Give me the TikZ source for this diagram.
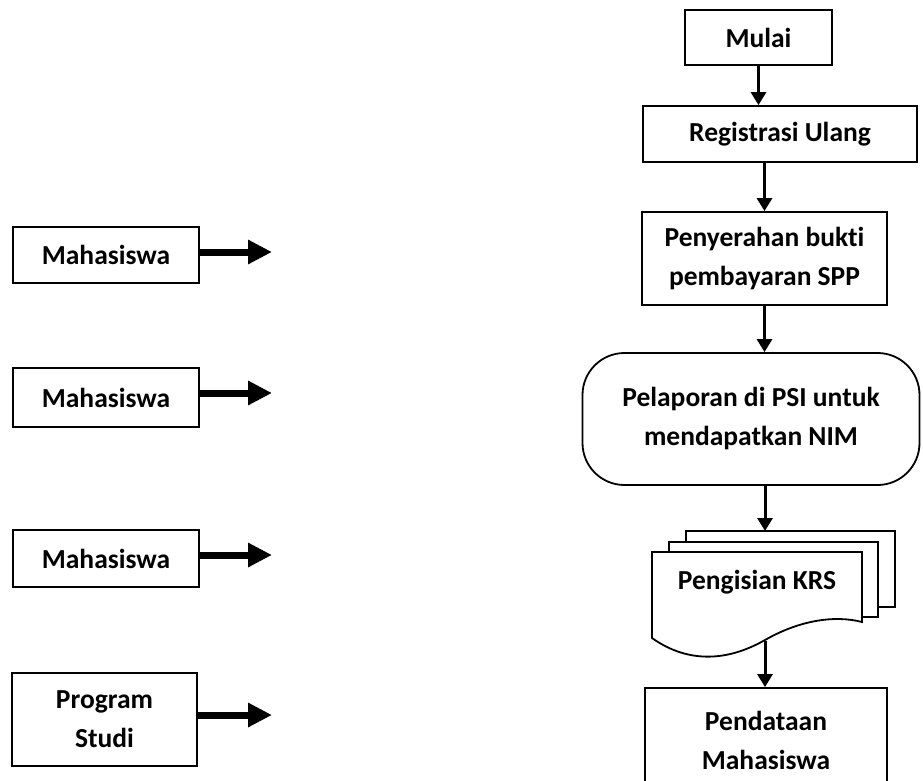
\documentclass[tikz,border=0pt]{standalone}
\usepackage{fontspec}
\setmainfont{Carlito}[Ligatures=NoCommon]
\usetikzlibrary{arrows.meta}
\tikzset{
  box/.style={draw, line width=1.8pt, align=center, inner sep=0pt,
    font=\bfseries\fontsize{27.5}{39}\selectfont},
  label/.style={align=center, inner sep=0pt, font=\bfseries\fontsize{27.5}{39}\selectfont},
  flow/.style={line width=3pt, -{Triangle[length=13pt,width=15pt]}},
  actor/.style={line width=7pt, -{Triangle[length=24pt,width=23pt]}},
  sheet/.style={draw, line width=1.8pt, fill=white},
}

\begin{document}
\begin{tikzpicture}[x=1pt, y=-1pt]
        \useasboundingbox (0,0) rectangle (923,781);
        % main flow
        \node[box, minimum width=147pt, minimum height=55pt] (mulai) at (758.5,37.5) {Mulai};
        \node[box, minimum width=274pt, minimum height=56pt] (reg) at (780,134) {Registrasi Ulang};
        \node[box, minimum width=245pt, minimum height=93pt] (peny) at (764.5,258.5) {Penyerahan bukti\\pembayaran SPP};
        \node[box, rounded corners=42pt, minimum width=337pt, minimum height=132pt] (lapor) at (751,419) {Pelaporan di PSI untuk\\mendapatkan NIM};
        % multidocument
        \draw[sheet] (686,531) rectangle (895,607);
        \draw[sheet] (669,542) rectangle (878,617);
        \draw[sheet] (652,552) -- (862,552) -- (862,622)
            .. controls (835,615) and (800,620) .. (765,640)
            .. controls (730,660) and (690,665) .. (652,638) -- cycle;
        \node[label] (krs) at (757,582) {Pengisian KRS};
        \coordinate (krstop) at (765,531);
        \coordinate (krsbot) at (765,641);
        \node[box, minimum width=242pt, minimum height=104pt, text depth=0pt] (pend) at (766,740) {Pendataan\\Mahasiswa};
        % arrows
        \draw[flow] (mulai.south) -- (mulai.south |- reg.north);
        \draw[flow] (peny.north |- reg.south) -- (peny.north);
        \draw[flow] (peny.south) -- (peny.south |- lapor.north);
        \draw[flow] (krstop |- lapor.south) -- (krstop);
        \draw[flow] (krsbot) -- (krsbot |- pend.north);
        % actors
        \node[box, minimum width=186pt, minimum height=56pt] (m1) at (106,255) {Mahasiswa};
        \node[box, minimum width=186pt, minimum height=59pt] (m2) at (106,397.5) {Mahasiswa};
        \node[box, minimum width=186pt, minimum height=57pt] (m3) at (106,558.5) {Mahasiswa};
        \node[box, minimum width=185pt, minimum height=93pt] (ps) at (104.5,719.5) {Program\\Studi};
        \foreach \n/\y in {m1/252, m2/393, m3/555, ps/715} {
            \coordinate (\n-end) at (272,\y);
            \draw[actor] (\n.east |- \n-end) -- (\n-end);
        }
\end{tikzpicture}
\end{document}
